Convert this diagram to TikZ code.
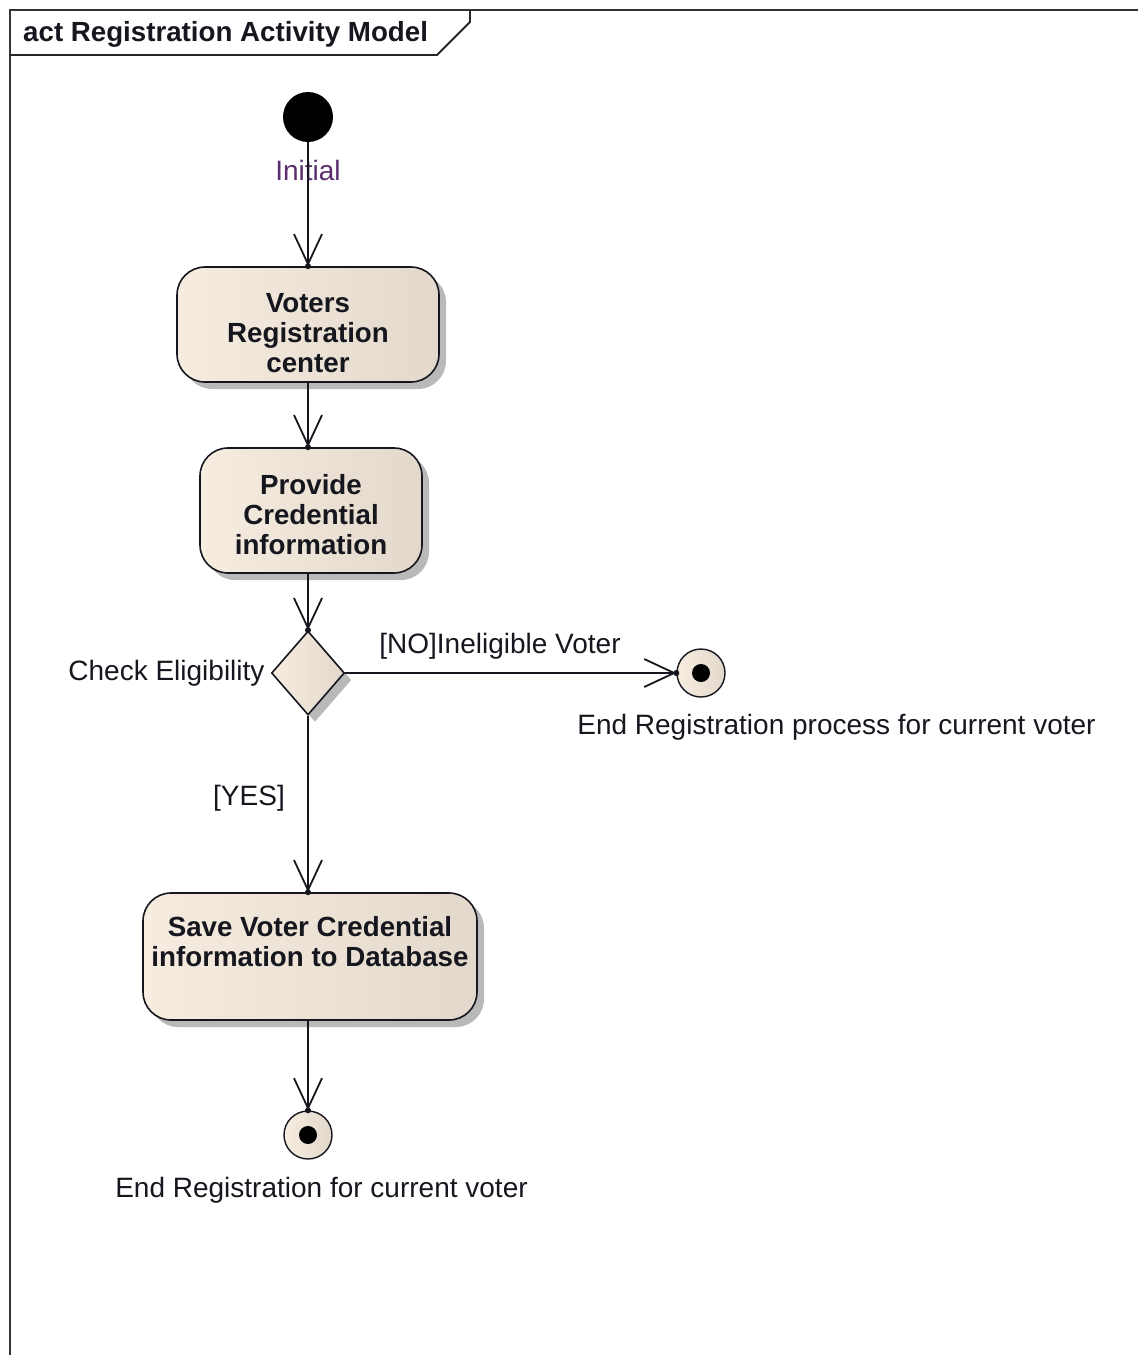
\documentclass[tikz,border=0pt]{standalone}
\usepackage{fontspec}
\setmainfont{Liberation Sans}
\usetikzlibrary{arrows.meta,shapes.geometric,shadows,calc}

\definecolor{inkc}{HTML}{16161E}
\definecolor{actL}{HTML}{F6EDE0}
\definecolor{actM}{HTML}{FBF3E9}
\definecolor{actR}{HTML}{E2D8CB}
\definecolor{shade}{HTML}{B9B9B9}
\definecolor{initc}{HTML}{5A2D6E}

\begin{document}
\begin{tikzpicture}[x=1pt,y=-1pt,
  every node/.style={text=inkc, font=\fontsize{28}{30}\selectfont},
  boldtext/.style={font=\fontsize{27.7}{30}\selectfont\bfseries},
  shadowed/.style={drop shadow={shadow xshift=7pt, shadow yshift=-7pt, fill=shade, opacity=1}},
  beige/.style={left color=actL, middle color=actM, right color=actR},
  action/.style={draw=inkc, line width=1.6pt, rounded corners=28pt, beige, shadowed,
    align=center, inner sep=0pt, boldtext},
  decision/.style={diamond, draw=inkc, line width=1.6pt, beige, shadowed,
    inner sep=0pt, minimum width=73pt, minimum height=84pt},
  startnode/.style={circle, fill=black, minimum size=50pt, inner sep=0pt},
  endnode/.style={circle, draw=inkc, line width=1.4pt, beige, minimum size=48pt, inner sep=0pt,
    path picture={\fill[black] (path picture bounding box.center) circle (9pt);}},
  flow/.style={draw=inkc, line width=1.8pt,
    -{Straight Barb[length=30pt, width=28pt, line width=1.8pt]}},
  tipdot/.style={fill=inkc}
]
\useasboundingbox (0,0) rectangle (1138,1355);

% diagram frame with its name tab
\draw[line width=2.4pt, draw=black!80] (10,1365) -- (10,10) -- (1150,10);
\draw[line width=1.8pt, draw=black!85] (10,55) -- (437,55) -- (470,22) -- (470,10);
\node[anchor=west, inner sep=0pt, boldtext] (title) at (23,34)
  {act Registration Activity Model};

% nodes
\node[startnode] (init) at (308,117) {};
\node[text=initc] (initlbl) at (308,170) {Initial};

\node[action, minimum width=262pt, minimum height=115pt] (b1) at (308,324.5)
  {Voters\\Registration\\center\\[-46pt]\mbox{}};
\node[action, minimum width=222pt, minimum height=125pt] (b2) at (311,510.5)
  {Provide\\Credential\\information\\[-38pt]\mbox{}};
\node[decision] (dec) at (308,673) {};
\node[anchor=east, inner sep=6pt] (chk) at (dec.west) {Check Eligibility};

\node[endnode] (end1) at (701,673) {};
\node (end1lbl) at (836.5,727) {End Registration process for current voter};

\node[action, minimum width=334pt, minimum height=127pt] (b3) at (310,956.5)
  {Save Voter Credential\\information to Database\\\mbox{}};

\node[endnode] (end2) at (308,1135) {};
\node (end2lbl) at (321.5,1190) {End Registration for current voter};

% control flows
\draw[flow] (init) -- (init |- b1.north);
\fill[tipdot] (init |- b1.north) circle (3pt);

\draw[flow] (b1.south) -- (b1.south |- b2.north);
\fill[tipdot] (b1.south |- b2.north) circle (3pt);

\draw[flow] (b1.south |- b2.south) -- (dec.north);
\fill[tipdot] (dec.north) circle (3pt);

\draw[flow] (dec.east) -- (end1.west);
\fill[tipdot] (end1.west) circle (3pt);
\node (nolbl) at (500,646) {[NO]Ineligible Voter};

\draw[flow] (dec.south) -- (dec.south |- b3.north);
\fill[tipdot] (dec.south |- b3.north) circle (3pt);
\node (yeslbl) at (249,798) {[YES]};

\draw[flow] (dec.south |- b3.south) -- (end2.north);
\fill[tipdot] (end2.north) circle (3pt);
\end{tikzpicture}
\end{document}
